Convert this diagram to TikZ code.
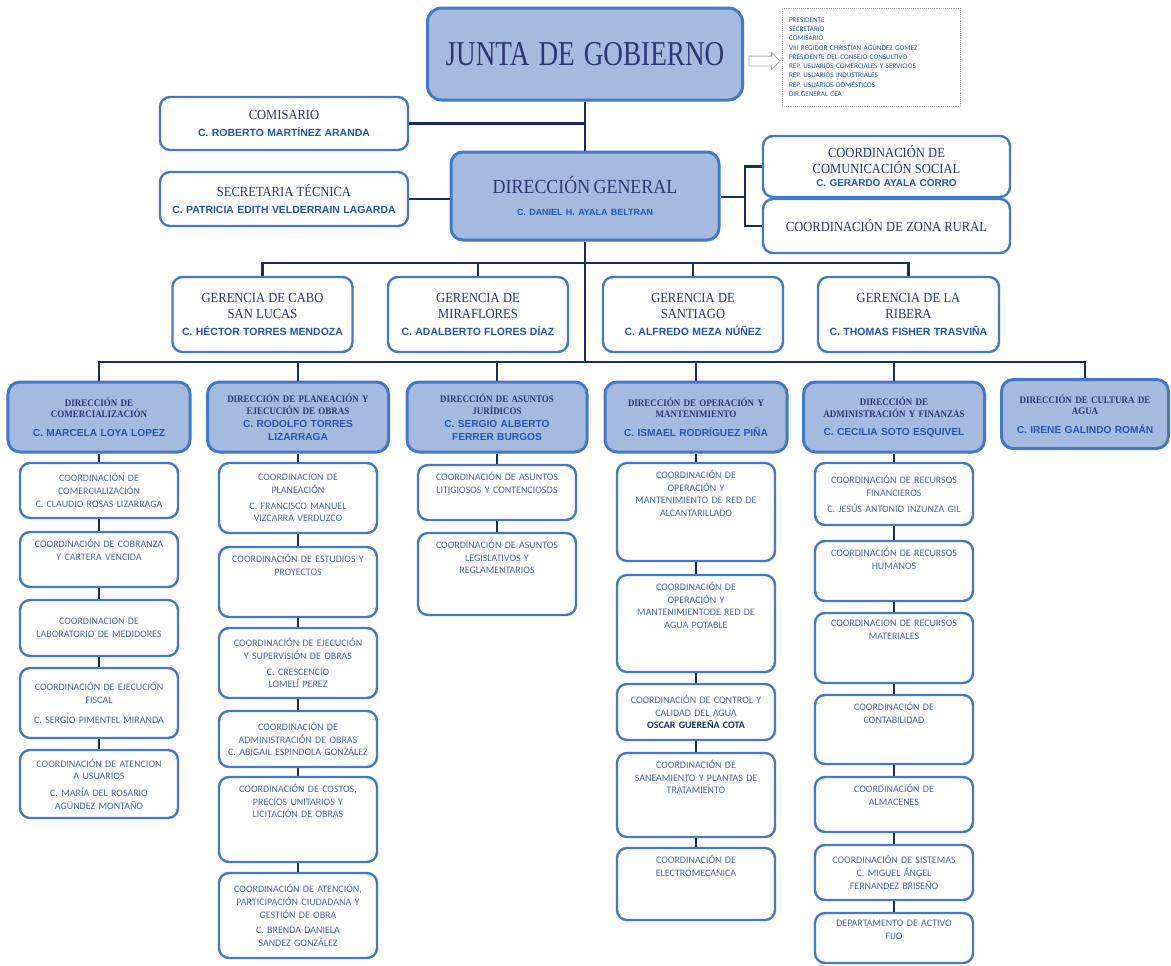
\documentclass[tikz,border=0pt]{standalone}
\usepackage{fontspec}
\setmainfont{Liberation Serif}
\newfontfamily\jsf[FakeStretch=0.78]{Liberation Serif}
\newfontfamily\hsf[FakeStretch=0.9]{Liberation Serif}
\newfontfamily\ssf{Liberation Sans}
\newfontfamily\csf{Carlito}
\usetikzlibrary{shapes.arrows}
\definecolor{navy}{HTML}{1B2D5E}
\definecolor{bord}{HTML}{4678C8}
\definecolor{fillb}{HTML}{A5BADF}
\definecolor{headc}{HTML}{2B3870}
\definecolor{namec}{HTML}{2456B0}
\definecolor{coordc}{HTML}{4D66A6}
\newcommand\mhead[1]{{\hsf\fontsize{14}{16}\selectfont\color{headc}#1\par}}
\newcommand\mname[1]{{\ssf\bfseries\fontsize{10.5}{12.5}\selectfont\color{namec}#1\par}}
\newcommand\dirh[1]{{\hsf\bfseries\fontsize{10}{12}\selectfont\color{headc}#1\par}}
\newcommand\dirn[1]{{\ssf\bfseries\fontsize{10.2}{12.5}\selectfont\color{namec}#1\par}}
\newcommand\cotx[1]{{\csf\fontsize{10}{12.8}\selectfont\color{coordc}#1\par}}
\begin{document}
\begin{tikzpicture}[x=1bp,y=-1bp,
  conn/.style={draw=navy, line width=2.6bp},
  wbox/.style={draw=bord, line width=2.4bp, rounded corners=10bp, fill=white, align=center, inner sep=2bp},
  fbox/.style={wbox, fill=fillb, line width=3bp, rounded corners=12bp},
  sub/.style={wbox, minimum width=158bp, text width=152bp, inner sep=3bp},
  lblc/.style={align=center, text width=150bp, anchor=north, yshift=-8bp, inner sep=0pt},
  tl/.style={label={[lblc]north:{\cotx{#1}}}},
  arrowsh/.style={single arrow, draw=gray!65, line width=0.9bp, fill=white, minimum height=31bp, inner xsep=9bp, inner ysep=4.5bp, single arrow head extend=3.5bp},
  notes/.style={draw=gray!60, densely dotted, line width=0.9bp, minimum width=178bp, minimum height=98bp, text width=164bp, align=left, inner sep=7bp, font=\csf\fontsize{7.2}{9.3}\selectfont, text=namec}
]
\useasboundingbox (0,0) rectangle (1171,966);
\fill[white] (0,0) rectangle (1171,966);

% ---------- top ----------
\node[fbox, rounded corners=14bp, minimum width=315bp, minimum height=92bp, text width=305bp] (junta) at (585,54) {\jsf\fontsize{35}{40}\selectfont\color{headc}JUNTA\hspace{9bp}DE\hspace{9bp}GOBIERNO};
\node[arrowsh] (arr) at (762,61) {};
\node[notes] (notes) at (871,57) {PRESIDENTE\\SECRETARIO\\COMISARIO\\VIII REGIDOR CHRISTIAN AGÚNDEZ GOMEZ\\PRESIDENTE DEL CONSEJO CONSULTIVO\\REP. USUARIOS COMERCIALES Y SERVICIOS\\REP. USUARIOS INDUSTRIALES\\REP. USUARIOS DOMÉSTICOS\\DIR.GENERAL CEA};

\node[wbox, minimum width=248bp, minimum height=53bp, text width=242bp] (com) at (284,123.5) {\mhead{COMISARIO}\vspace{5bp}\mname{C. ROBERTO MARTÍNEZ ARANDA}};
\node[wbox, minimum width=248bp, minimum height=54bp, text width=242bp] (sec) at (284,199) {\mhead{SECRETARIA TÉCNICA}\vspace{5bp}\mname{C. PATRICIA EDITH VELDERRAIN LAGARDA}};
\node[fbox, minimum width=268bp, minimum height=88bp, text width=260bp] (dg) at (585,196) {{\hsf\fontsize{20}{22}\selectfont\color{headc}DIRECCIÓN GENERAL\par}\vspace{12bp}{\ssf\bfseries\fontsize{9}{11}\selectfont\color{namec}C. DANIEL H. AYALA BELTRAN\par}};
\node[wbox, minimum width=247bp, minimum height=61bp, text width=241bp] (ccs) at (886.5,166.5) {\mhead{COORDINACIÓN DE\\COMUNICACIÓN SOCIAL}\vspace{1bp}{\ssf\bfseries\fontsize{10}{12}\selectfont\color{namec}C. GERARDO AYALA CORRO\par}};
\node[wbox, minimum width=247bp, minimum height=54bp, text width=241bp] (czr) at (886.5,226) {\mhead{COORDINACIÓN DE ZONA RURAL}\vspace{6bp}};

% ---------- gerencias ----------
\node[wbox, minimum width=180bp, minimum height=75bp, text width=174bp] (g1) at (262.5,314.5) {\mhead{GERENCIA DE CABO\\SAN LUCAS}\vspace{5bp}\mname{C. HÉCTOR TORRES MENDOZA}};
\node[wbox, minimum width=180bp, minimum height=75bp, text width=174bp] (g2) at (478,314.5) {\mhead{GERENCIA DE\\MIRAFLORES}\vspace{5bp}\mname{C. ADALBERTO FLORES DÍAZ}};
\node[wbox, minimum width=180bp, minimum height=75bp, text width=174bp] (g3) at (693,314.5) {\mhead{GERENCIA DE\\SANTIAGO}\vspace{5bp}\mname{C. ALFREDO MEZA NÚÑEZ}};
\node[wbox, minimum width=181bp, minimum height=75bp, text width=175bp] (g4) at (908.5,314.5) {\mhead{GERENCIA DE LA\\RIBERA}\vspace{5bp}\mname{C. THOMAS FISHER TRASVIÑA}};

% ---------- direcciones ----------
\node[fbox, minimum width=182bp, minimum height=70bp, text width=174bp] (d1) at (99,417) {\dirh{DIRECCIÓN DE\\COMERCIALIZACIÓN}\vspace{6bp}\dirn{C. MARCELA LOYA LOPEZ}};
\node[fbox, minimum width=181bp, minimum height=70bp, text width=174bp] (d2) at (298,417) {\dirh{DIRECCIÓN DE PLANEACIÓN Y\\EJECUCIÓN DE OBRAS}\vspace{1bp}\dirn{C. RODOLFO TORRES\\LIZARRAGA}};
\node[fbox, minimum width=180bp, minimum height=70bp, text width=174bp] (d3) at (497,417) {\dirh{DIRECCIÓN DE ASUNTOS\\JURÍDICOS}\vspace{1bp}\dirn{C. SERGIO ALBERTO\\FERRER BURGOS}};
\node[fbox, minimum width=182bp, minimum height=70bp, text width=174bp] (d4) at (696,417) {\dirh{DIRECCIÓN DE OPERACIÓN Y\\MANTENIMIENTO}\vspace{6bp}\dirn{C. ISMAEL RODRÍGUEZ PIÑA}};
\node[fbox, minimum width=181bp, minimum height=70bp, text width=174bp] (d5) at (894,417) {\dirh{DIRECCIÓN DE\\ADMINISTRACIÓN Y FINANZAS}\vspace{6bp}\dirn{C. CECILIA SOTO ESQUIVEL}};
\node[fbox, minimum width=167bp, minimum height=69bp, text width=160bp] (d6) at (1085,414) {\dirh{DIRECCIÓN DE CULTURA DE\\AGUA}\vspace{6bp}\dirn{C. IRENE GALINDO ROMÁN}};

% ---------- column 1 ----------
\node[sub, minimum height=55bp] (a1) at (99,490.5) {\cotx{COORDINACIÓN DE\\COMERCIALIZACIÓN\\C. CLAUDIO ROSAS LIZARRAGA}};
\node[sub, minimum height=55bp, tl={COORDINACIÓN DE COBRANZA\\Y CARTERA VENCIDA}] (a2) at (99,559.5) {};
\node[sub, minimum height=56bp] (a3) at (99,628) {\cotx{COORDINACION DE\\LABORATORIO DE MEDIDORES}\vspace{4bp}};
\node[sub, minimum height=70bp] (a4) at (99,703) {\cotx{COORDINACIÓN DE EJECUCIÓN\\FISCAL}\vspace{7bp}\cotx{C. SERGIO PIMENTEL MIRANDA}};
\node[sub, minimum height=68bp] (a5) at (99,784) {\cotx{COORDINACIÓN DE ATENCION\\A USUARIOS}\vspace{4bp}\cotx{C. MARÍA DEL ROSARIO\\AGÜNDEZ MONTAÑO}};

% ---------- column 2 ----------
\node[sub, minimum height=70bp] (b1) at (298,498) {\cotx{COORDINACION DE\\PLANEACIÓN}\vspace{3bp}\cotx{C. FRANCISCO MANUEL\\VIZCARRA VERDUZCO}};
\node[sub, minimum height=70bp, tl={COORDINACIÓN DE ESTUDIOS Y\\PROYECTOS}] (b2) at (298,582) {};
\node[sub, minimum height=70bp] (b3) at (298,663) {\cotx{COORDINACIÓN DE EJECUCIÓN\\Y SUPERVISIÓN DE OBRAS}\vspace{3bp}\cotx{C. CRESCENCIO\\LOMELÍ PEREZ}};
\node[sub, minimum height=56bp] (b4) at (298,739) {\cotx{COORDINACIÓN DE\\ADMINISTRACIÓN DE OBRAS\\C. ABIGAIL ESPINDOLA GONZÁLEZ}};
\node[sub, minimum height=85bp, tl={COORDINACIÓN DE COSTOS,\\PRECIOS UNITARIOS Y\\LICITACIÓN DE OBRAS}] (b5) at (298,819.5) {};
\node[sub, minimum height=85bp] (b6) at (298,915.5) {\cotx{COORDINACIÓN DE ATENCIÓN,\\PARTICIPACIÓN CIUDADANA Y\\GESTIÓN DE OBRA}\vspace{3bp}\cotx{C. BRENDA DANIELA\\SANDEZ GONZÁLEZ}};

% ---------- column 3 ----------
\node[sub, minimum height=55bp, tl={COORDINACIÓN DE ASUNTOS\\LITIGIOSOS Y CONTENCIOSOS}] (c1) at (497,492.5) {};
\node[sub, minimum height=82bp, tl={COORDINACIÓN DE ASUNTOS\\LEGISLATIVOS Y\\REGLAMENTARIOS}] (c2) at (497,574) {};

% ---------- column 4 ----------
\node[sub, minimum height=98bp, tl={COORDINACIÓN DE\\OPERACIÓN Y\\MANTENIMIENTO DE RED DE\\ALCANTARILLADO}] (e1) at (696,512) {};
\node[sub, minimum height=97bp, tl={COORDINACIÓN DE\\OPERACIÓN Y\\MANTENIMIENTODE RED DE\\AGUA POTABLE}] (e2) at (696,623.5) {};
\node[sub, minimum height=56bp] (e3) at (696,712) {\cotx{COORDINACIÓN DE CONTROL Y\\CALIDAD DEL AGUA\\{\bfseries\color{navy}OSCAR GUEREÑA COTA}}};
\node[sub, minimum height=84bp, tl={COORDINACIÓN DE\\SANEAMIENTO Y PLANTAS DE\\TRATAMIENTO}] (e4) at (696,795) {};
\node[sub, minimum height=72bp, tl={COORDINACIÓN DE\\ELECTROMECANICA}] (e5) at (696,884) {};

% ---------- column 5 ----------
\node[sub, minimum height=62bp] (f1) at (894,494) {\cotx{COORDINACIÓN DE RECURSOS\\FINANCIEROS}\vspace{4bp}\cotx{C. JESÚS ANTONIO INZUNZA GIL}};
\node[sub, minimum height=60bp, tl={COORDINACIÓN DE RECURSOS\\HUMANOS}] (f2) at (894,571) {};
\node[sub, minimum height=70bp, tl={COORDINACION DE RECURSOS\\MATERIALES}] (f3) at (894,648) {};
\node[sub, minimum height=69bp, tl={COORDINACIÓN DE\\CONTABILIDAD}] (f4) at (894,729.5) {};
\node[sub, minimum height=55bp, tl={COORDINACIÓN DE\\ALMACENES}] (f5) at (894,804.5) {};
\node[sub, minimum height=55bp] (f6) at (894,872.5) {\cotx{COORDINACIÓN DE SISTEMAS\\C. MIGUEL ÁNGEL\\FERNANDEZ BRISEÑO}};
\node[sub, minimum height=50bp, tl={DEPARTAMENTO DE ACTIVO\\FIJO}] (f7) at (894,938) {};

% ---------- connectors ----------
\coordinate (upbar) at (585,263);
\coordinate (lowbar) at (585,362);
\coordinate (brk) at (745,197);
\draw[conn] (junta.south) -- (dg.north);
\draw[conn] (com.east) -- (com.east -| dg.north);
\draw[conn] (sec.east) -- (sec.east -| dg.west);
\draw[conn] (dg.east |- brk) -- (brk);
\draw[conn] (ccs.west) -- (ccs.west -| brk) -- (czr.west -| brk) -- (czr.west);
\draw[conn] (dg.south) -- (lowbar);
\draw[conn] (g1.north) -- (g1.north |- upbar) -- (g4.north |- upbar) -- (g4.north);
\draw[conn] (g2.north) -- (g2.north |- upbar);
\draw[conn] (g3.north) -- (g3.north |- upbar);
\draw[conn] (d1.north) -- (d1.north |- lowbar) -- (d6.north |- lowbar) -- (d6.north);
\foreach \d in {d2,d3,d4,d5} \draw[conn] (\d.north) -- (\d.north |- lowbar);
\draw[conn] (d1.south) -- (a1.north) (a1.south) -- (a2.north) (a2.south) -- (a3.north) (a3.south) -- (a4.north) (a4.south) -- (a5.north);
\draw[conn] (d2.south) -- (b1.north) (b1.south) -- (b2.north) (b2.south) -- (b3.north) (b3.south) -- (b4.north) (b4.south) -- (b5.north) (b5.south) -- (b6.north);
\draw[conn] (d3.south) -- (c1.north) (c1.south) -- (c2.north);
\draw[conn] (d4.south) -- (e1.north) (e1.south) -- (e2.north) (e2.south) -- (e3.north) (e3.south) -- (e4.north) (e4.south) -- (e5.north);
\draw[conn] (d5.south) -- (f1.north) (f1.south) -- (f2.north) (f2.south) -- (f3.north) (f3.south) -- (f4.north) (f4.south) -- (f5.north) (f5.south) -- (f6.north) (f6.south) -- (f7.north);
\end{tikzpicture}
\end{document}
